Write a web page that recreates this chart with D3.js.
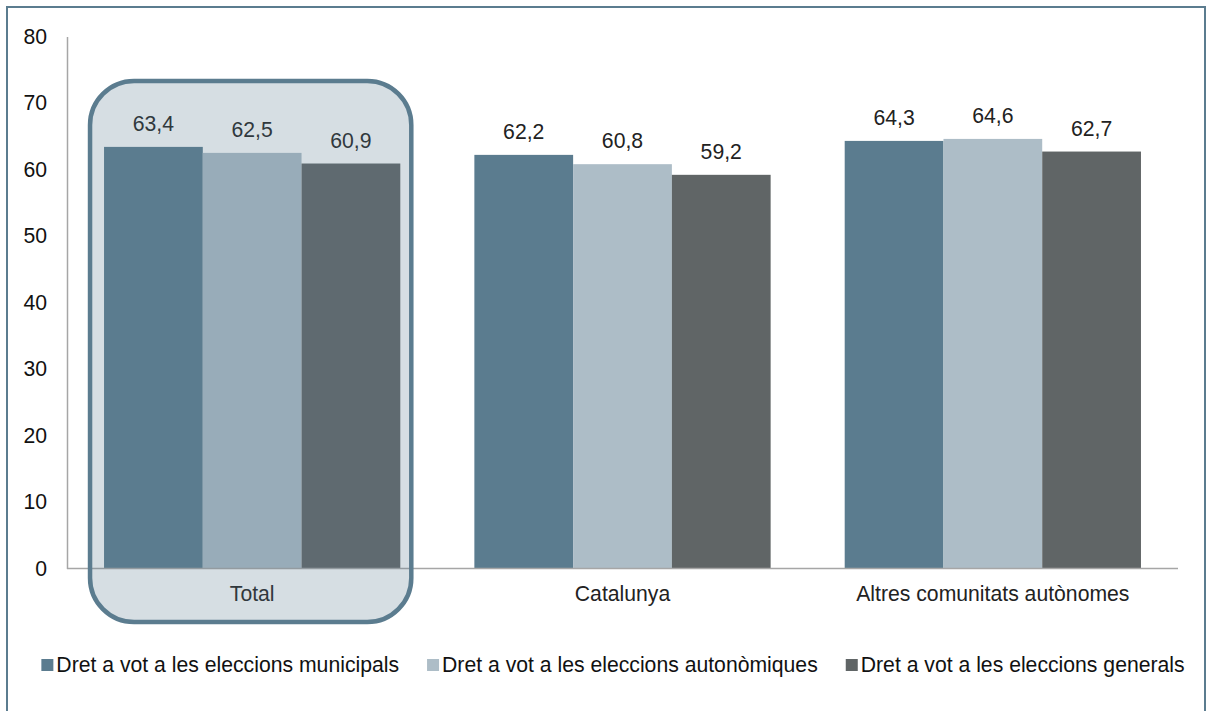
<!DOCTYPE html>
<html>
<head>
<meta charset="utf-8">
<script src="https://cdn.jsdelivr.net/npm/d3@7"></script>
<style>
  html, body { margin: 0; padding: 0; background: #fff; }
  svg { display: block; font-family: "Liberation Sans", Arial, sans-serif; }
  svg text { font-family: "Liberation Sans", Arial, sans-serif; }
</style>
</head>
<body>
<svg id="chart" width="1206" height="711"></svg>
<script>
// Percentatge de població amb dret a vot, per àmbit
const categories = ["Total", "Catalunya", "Altres comunitats autònomes"];
const seriesNames = [
  "Dret a vot a les eleccions municipals",
  "Dret a vot a les eleccions autonòmiques",
  "Dret a vot a les eleccions generals"
];
const municipals = [63.4, 62.2, 64.3];
const autonomiques = [62.5, 60.8, 64.6];
const generals = [60.9, 59.2, 62.7];
const yTicks = [0, 10, 20, 30, 40, 50, 60, 70, 80];
const colors = ["#5b7c8f", "#adbdc7", "#606566"];
const highlighted = "Total";

const series = [municipals, autonomiques, generals];
const FS = 21.2;

const svg = d3.select("#chart");
const fmt = v => d3.format(".1f")(v).replace(".", ",");

// outer frame
svg.append("rect")
  .attr("x", 7).attr("y", 7)
  .attr("width", 1198).attr("height", 720)
  .attr("fill", "none")
  .attr("stroke", "#5b7c8f")
  .attr("stroke-width", 2);

const x = d3.scaleBand().domain(categories).range([67, 1178])
  .paddingInner(0.2).paddingOuter(0.1);
const xs = d3.scaleBand().domain(d3.range(series.length)).range([0, x.bandwidth()]);
const y = d3.scaleLinear().domain([0, 80]).range([568.5, 36.5]);

// bars
const groups = svg.append("g").selectAll("g")
  .data(categories).join("g")
  .attr("transform", d => `translate(${x(d)},0)`);

groups.selectAll("rect")
  .data((c, ci) => series.map((s, si) => ({ si, v: s[ci] })))
  .join("rect")
  .attr("x", d => xs(d.si))
  .attr("y", d => y(d.v))
  .attr("width", xs.bandwidth())
  .attr("height", d => y(0) - y(d.v))
  .attr("fill", d => colors[d.si]);

// y axis
const yAxis = svg.append("g")
  .attr("transform", `translate(${x.range()[0]},0)`)
  .call(d3.axisLeft(y).tickValues(yTicks).tickSize(0).tickPadding(20));
yAxis.select(".domain").attr("stroke", "#a6a6a6").attr("stroke-width", 1.5);
yAxis.selectAll("text").attr("font-size", FS).attr("fill", "#111")
  .attr("font-family", null);

// x axis baseline and category labels
const xAxis = svg.append("g")
  .attr("transform", `translate(0,${y(0)})`)
  .call(d3.axisBottom(x).tickSize(0).tickPadding(17.5));
xAxis.select(".domain").attr("stroke", "#a6a6a6").attr("stroke-width", 1.5)
  .attr("d", `M${x.range()[0]},0H${x.range()[1]}`);
xAxis.selectAll("text").attr("font-size", FS).attr("fill", "#222")
  .attr("font-family", null);

// highlight around the Total group
const hx0 = x(highlighted) - 14, hx1 = x(highlighted) + x.bandwidth() + 11;
svg.append("rect")
  .attr("x", hx0).attr("y", y(73.3))
  .attr("width", hx1 - hx0).attr("height", 622 - y(73.3))
  .attr("rx", 44).attr("ry", 44)
  .attr("fill", "#5b7c8f").attr("fill-opacity", 0.25)
  .attr("stroke", "#5b7c8f").attr("stroke-width", 4.5);

// value labels
groups.selectAll("text.val")
  .data((c, ci) => series.map((s, si) => ({ si, v: s[ci] })))
  .join("text")
  .attr("class", "val")
  .attr("x", d => xs(d.si) + xs.bandwidth() / 2)
  .attr("y", d => y(d.v) - 16)
  .attr("text-anchor", "middle")
  .attr("font-size", FS)
  .attr("fill", "#222")
  .text(d => fmt(d.v));

// legend
const legend = svg.append("g").attr("transform", "translate(0,665)");
const items = legend.selectAll("g").data(seriesNames).join("g");
items.append("rect")
  .attr("y", -6).attr("width", 12).attr("height", 12)
  .attr("fill", (d, i) => colors[i]);
items.append("text")
  .attr("x", 15).attr("dy", "0.35em")
  .attr("font-size", FS).attr("fill", "#111")
  .text(d => d);
let cx = 0;
const offs = [];
items.each(function () {
  offs.push(cx);
  cx += this.getBBox().width + 28;
});
const total = cx - 28;
const start = 613 - total / 2;
items.attr("transform", (d, i) => `translate(${start + offs[i]},0)`);
</script>
</body>
</html>
